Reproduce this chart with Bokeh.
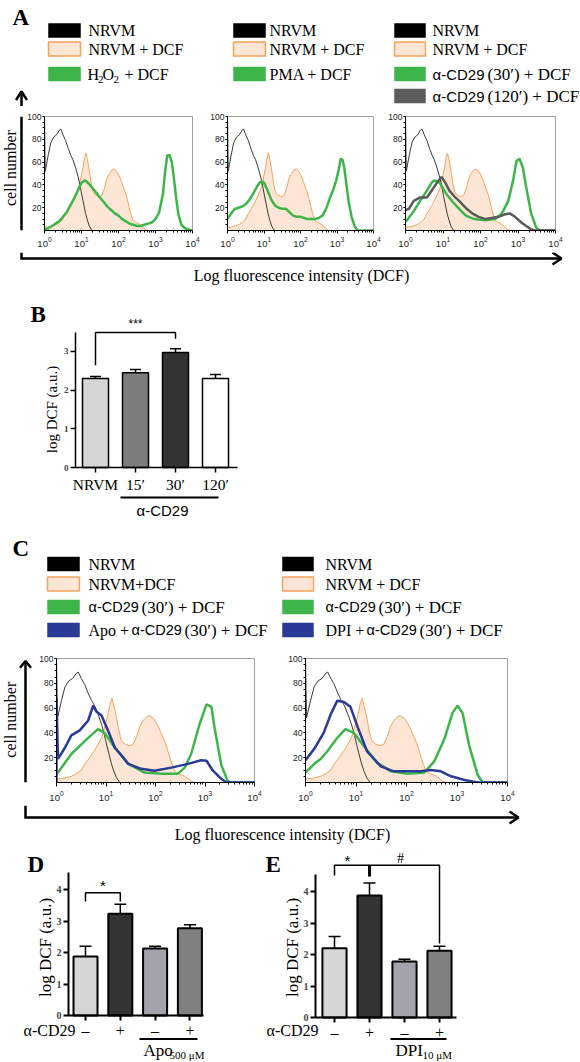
import math
from bokeh.plotting import figure
from bokeh.models import (Range1d, LinearAxis, FixedTicker, Whisker,
                          TeeHead, ColumnDataSource, Spacer)
from bokeh.layouts import column, row
from bokeh.core.properties import value
from bokeh.embed import file_html
from bokeh.resources import INLINE

SERIF = "Liberation Serif"
SANS = "Liberation Sans"

# ---------------- data ----------------
# flow-cytometry histograms: log10(DCF intensity) and cell number (% of max)
NRVM_LOG = [0.0, 0.0, 0.02, 0.1, 0.17, 0.25, 0.33, 0.40, 0.44, 0.50, 0.57, 0.64,
            0.71, 0.77, 0.84, 0.91, 0.97, 1.01, 1.06, 1.11, 1.16, 1.21, 1.28, 1.35]
NRVM_CNT = [0, 100, 52, 66, 77, 82, 84, 88, 89, 84, 79, 72,
            66, 62, 55, 47, 38, 31, 23, 15, 9, 4, 0, 0]

NRVM_DCF_LOG = [0.0, 0.1, 0.2, 0.3, 0.4, 0.5, 0.57, 0.65, 0.72, 0.77, 0.84, 0.91,
                0.97, 1.04, 1.08, 1.12, 1.16, 1.21, 1.26, 1.31, 1.38, 1.45, 1.5,
                1.55, 1.62, 1.68, 1.75, 1.82, 1.88, 1.95, 2.02, 2.08, 2.13, 2.18,
                2.24, 2.29, 2.34, 2.39, 2.48, 2.59, 2.66, 2.72, 2.8]
NRVM_DCF_CNT = [3, 3, 4, 5, 7, 10, 15, 19, 23, 26, 31, 36,
                44, 55, 63, 68, 62, 53, 42, 34, 31, 30, 30,
                31, 37, 45, 50, 53, 54, 52, 48, 43, 38, 34,
                27, 20, 14, 9, 7, 5, 3, 1, 0]

H2O2_LOG = [0.0, 0.1, 0.2, 0.3, 0.4, 0.5, 0.6, 0.7, 0.8, 0.9, 1.0, 1.1, 1.2, 1.3,
            1.4, 1.5, 1.6, 1.7, 1.8, 1.9, 2.0, 2.1, 2.2, 2.3, 2.4, 2.5, 2.6, 2.7,
            2.8, 2.9, 3.0, 3.1, 3.2, 3.26, 3.32, 3.38, 3.44, 3.5, 3.56, 3.62, 3.7,
            3.8, 3.9, 4.0]
H2O2_CNT = [1, 2, 4, 6, 8, 12, 16, 22, 28, 35, 42, 44, 41, 37,
            33, 29, 25, 21, 18, 15, 13, 10, 8, 6, 5, 4, 4, 5,
            6, 7, 10, 16, 32, 52, 66, 66, 60, 45, 28, 14, 5,
            2, 1, 0]

PMA_LOG = [0.0, 0.1, 0.2, 0.3, 0.4, 0.5, 0.6, 0.7, 0.8, 0.88, 0.94, 1.0, 1.1, 1.2,
           1.3, 1.4, 1.5, 1.6, 1.7, 1.8, 1.9, 2.0, 2.1, 2.2, 2.3, 2.4, 2.5, 2.6,
           2.7, 2.8, 2.9, 2.98, 3.05, 3.1, 3.15, 3.2, 3.26, 3.32, 3.4, 3.48, 3.56, 4.0]
PMA_CNT = [10, 15, 19, 20, 21, 23, 27, 32, 38, 42, 43, 42, 35, 27,
           22, 20, 19, 19, 16, 13, 12, 12, 11, 10, 10, 10, 11, 13,
           19, 28, 36, 44, 54, 63, 62, 55, 40, 25, 12, 4, 0, 0]

CD29_30_A_LOG = [0.0, 0.04, 0.22, 0.39, 0.57, 0.7, 0.78, 0.91, 1.09, 1.26, 1.43, 1.61,
                 1.83, 2.13, 2.39, 2.57, 2.74, 2.87, 2.96, 3.04, 3.13, 3.22, 3.35,
                 3.48, 3.57, 4.0]
CD29_30_A_CNT = [8, 9, 17, 26, 35, 42, 44, 42, 32, 25, 19, 13,
                 10, 9, 10, 15, 26, 44, 61, 63, 55, 38, 15,
                 3, 0, 0]

CD29_120_LOG = [0.0, 0.09, 0.22, 0.39, 0.57, 0.74, 0.86, 0.96, 1.06, 1.17, 1.3,
                1.43, 1.6, 1.78, 1.95, 2.13, 2.3, 2.48, 2.63, 2.78, 2.92, 3.09,
                3.22, 3.35, 3.45, 4.0]
CD29_120_CNT = [18, 19, 26, 29, 29, 37, 43, 47, 42, 35, 30,
                26, 20, 15, 12, 10, 11, 12, 14, 15, 12, 7,
                4, 1, 0, 0]

CD29_30_C1_LOG = [0.0, 0.03, 0.3, 0.64, 0.84, 0.97, 1.18, 1.45, 1.78, 2.12, 2.45,
                  2.59, 2.72, 2.89, 3.03, 3.13, 3.19, 3.33, 3.46, 3.55, 4.0]
CD29_30_C1_CNT = [7, 8, 23, 36, 43, 40, 28, 15, 8, 7, 7,
                  12, 23, 47, 63, 61, 45, 14, 1, 0, 0]

APO_LOG = [0.0, 0.0, 0.03, 0.17, 0.3, 0.47, 0.64, 0.74, 0.81, 0.91, 1.04, 1.18,
           1.31, 1.45, 1.71, 1.98, 2.32, 2.66, 2.92, 3.03, 3.16, 3.33, 3.43, 4.0]
APO_CNT = [0, 68, 19, 28, 38, 42, 50, 62, 57, 54, 42, 28,
           22, 15, 11, 9.5, 12, 15, 18, 17.5, 9.5, 3, 0, 0]

CD29_30_C2_LOG = [0.0, 0.1, 0.2, 0.3, 0.43, 0.63, 0.79, 0.96, 1.16, 1.42, 1.69,
                  2.02, 2.35, 2.55, 2.75, 2.91, 3.01, 3.11, 3.24, 3.41, 3.51, 4.0]
CD29_30_C2_CNT = [8, 12, 16, 19, 25, 36, 43, 40, 29, 16, 9,
                  7, 8, 17, 35, 56, 62, 56, 30, 6, 0, 0]

DPI_LOG = [0.0, 0.17, 0.36, 0.5, 0.63, 0.76, 0.89, 1.03, 1.22, 1.49, 1.75, 2.02,
           2.28, 2.48, 2.68, 2.88, 3.15, 3.41, 4.0]
DPI_CNT = [18, 27, 40, 55, 66, 65, 61, 45, 25, 13, 9, 9,
           9, 10, 9, 5, 2, 0, 0]

HIST_TICKS = [1, 10, 100, 1000, 10000]
COUNT_TICKS = [20, 40, 60, 80, 100]

# bar chart B
B_CATS = ["NRVM", "15′", "30′", "120′"]
B_VALS = [2.30, 2.45, 2.97, 2.30]
B_ERR = [0.05, 0.08, 0.10, 0.10]
B_TICKS = [0, 1, 2, 3]

# bar charts D and E
SIGNS = ["–", "+", "–", "+"]
D_VALS = [1.87, 3.23, 2.13, 2.77]
D_ERR = [0.33, 0.30, 0.07, 0.11]
E_VALS = [2.20, 3.87, 1.78, 2.12]
E_ERR = [0.37, 0.40, 0.07, 0.14]
DE_TICKS = [0, 1, 2, 3, 4]

# ---------------- styles ----------------
GREEN = "#3db54a"
OR_LINE = "#f3a35d"
OR_FILL = "#fde6d5"
BLK_LINE = "#3a3a3a"
GREY = "#5a5a5a"
BLUE = "#2b3a97"
B_COLORS = ["#d6d6d6", "#7d7d7d", "#333333", "#ffffff"]
DE_COLORS = ["#d6d6d6", "#333333", "#a3a3ab", "#808080"]


def canvas(x0, x1, y0, y1):
    p = figure(width=x1 - x0, height=y1 - y0,
               x_range=Range1d(x0, x1), y_range=Range1d(y1, y0),
               x_axis_location=None, y_axis_location=None,
               min_border=0, output_backend="svg", toolbar_location=None)
    p.grid.visible = False
    p.outline_line_color = None
    return p


def txt(p, x, y, s, size, font=SERIF, style="normal", align="left",
        baseline="middle", angle=0.0, color="black"):
    p.text(x=[x], y=[y], text=[s], text_font=value(font),
           text_font_size=f"{size}px", text_font_style=style,
           text_align=align, text_baseline=baseline, angle=angle,
           text_color=color)


def legend(p, sx0, sx1, rows):
    for yc, fill, line, pieces in rows:
        p.quad(left=[sx0], right=[sx1], top=[yc - 7], bottom=[yc + 7],
               fill_color=fill, line_color=line if line else fill,
               line_width=1.5 if line else 0.5)
        for s, x, font, size, dy in pieces:
            txt(p, x, yc + dy, s, size, font=font)


def hist(x0, x1, y0, y1, fl, fr, ft, fb, curves, tick_out, standoff):
    p = figure(width=x1 - x0, height=y1 - y0, x_axis_type="log",
               x_range=Range1d(1, 1e4), y_range=Range1d(0, 100),
               min_border_left=fl - x0, min_border_right=x1 - fr,
               min_border_top=ft - y0, min_border_bottom=y1 - fb,
               output_backend="svg", toolbar_location=None)
    p.grid.visible = False
    p.outline_line_color = "#a0a0a0"
    p.outline_line_width = 1
    for logs, cnts, color, lw, fill in curves:
        xs = [10 ** v for v in logs]
        if fill:
            p.varea(x=xs, y1=[0] * len(xs), y2=cnts, fill_color=fill)
        p.line(xs, cnts, line_color=color, line_width=lw)
    minor_x = [m * d for d in HIST_TICKS[:-1] for m in range(2, 10)]
    xa = p.xaxis[0]
    ya = p.yaxis[0]
    xa.ticker = FixedTicker(ticks=HIST_TICKS, minor_ticks=minor_x)
    ya.ticker = FixedTicker(ticks=COUNT_TICKS, minor_ticks=list(range(5, 100, 5)))
    for ax in (xa, ya):
        ax.axis_line_color = "black"
        ax.axis_line_width = 1
        ax.major_tick_in = 0
        ax.minor_tick_in = 0
        ax.minor_tick_out = 2
        ax.major_label_text_font = SANS
        ax.major_label_text_color = "#222222"
    xa.major_label_text_font_size = "9.5px"
    ya.major_label_text_font_size = "8.5px"
    xa.major_tick_out = tick_out
    xa.major_label_standoff = standoff
    ya.major_tick_out = 2
    ya.major_label_standoff = 1
    return p


def bar_fig(x0, x1, y0, y1, xc0, sx, yz, sy):
    p = figure(width=x1 - x0, height=y1 - y0,
               x_range=Range1d((x0 - xc0) / sx, (x1 - xc0) / sx),
               y_range=Range1d((yz - y1) / sy, (yz - y0) / sy),
               x_axis_location=None, y_axis_location=None,
               min_border=0, output_backend="svg", toolbar_location=None)
    p.grid.visible = False
    p.outline_line_color = None
    fx = lambda X: (X - xc0) / sx
    fy = lambda Y: (yz - Y) / sy
    return p, fx, fy


def style_bar_axes(p, yfix, ybounds, yticks, xbounds, labels, xfont, xsize,
                   lw, ylab_size, xstandoff=3):
    ya = LinearAxis(fixed_location=yfix, bounds=ybounds,
                    ticker=FixedTicker(ticks=yticks))
    xa = LinearAxis(fixed_location=0, bounds=xbounds,
                    ticker=FixedTicker(ticks=list(range(len(labels)))),
                    major_label_overrides={i: s for i, s in enumerate(labels)})
    for ax in (xa, ya):
        ax.axis_line_width = lw
        ax.major_tick_line_width = lw
        ax.major_tick_in = 0
        ax.major_tick_out = 5
        ax.minor_tick_out = 0
        ax.minor_tick_in = 0
    ya.major_label_text_font = SERIF
    ya.major_label_text_font_style = "bold"
    ya.major_label_text_font_size = f"{ylab_size}px"
    ya.major_label_standoff = 2
    xa.major_label_text_font = xfont
    xa.major_label_text_font_size = f"{xsize}px"
    xa.major_label_standoff = xstandoff
    xa.major_label_text_color = "black"
    p.add_layout(ya, "left")
    p.add_layout(xa, "below")


W = 580

# ================= Panel A =================
a_top = canvas(0, W, 0, 106)
txt(a_top, 12, 4, "A", 23, style="bold", baseline="top")
legend(a_top, 48, 80, [
    (30, "black", None, [("NRVM", 88, SERIF, 16, 0)]),
    (48.5, OR_FILL, OR_LINE, [("NRVM + DCF", 88, SERIF, 16, 0)]),
    (73.5, GREEN, None, [("H", 87, SERIF, 16, 0), ("2", 97.5, SERIF, 11, 5),
                         ("O", 102, SERIF, 16, 0), ("2", 113, SERIF, 11, 5),
                         ("+ DCF", 124, SERIF, 16, 0)]),
])
legend(a_top, 233, 265, [
    (30, "black", None, [("NRVM", 269, SERIF, 16, 0)]),
    (48.5, OR_FILL, OR_LINE, [("NRVM + DCF", 269, SERIF, 16, 0)]),
    (73.5, GREEN, None, [("PMA + DCF", 269, SERIF, 16, 0)]),
])
legend(a_top, 394, 425, [
    (30, "black", None, [("NRVM", 432, SERIF, 16, 0)]),
    (48.5, OR_FILL, OR_LINE, [("NRVM + DCF", 432, SERIF, 16, 0)]),
    (73.5, GREEN, None, [("α-CD29", 432, SANS, 15, 0),
                         ("(30′) + DCF", 487, SERIF, 17, 0)]),
    (95.5, "#5c5c5c", None, [("α-CD29", 432, SANS, 15, 0),
                             ("(120′) + DCF", 487, SERIF, 17, 0)]),
])
a_top.line([21, 21], [92, 106], line_width=2.5, line_color="black")
a_top.line([15.5, 21, 26.5], [99.5, 91, 99.5], line_width=2.5, line_color="black")

a_strip = canvas(0, 24, 106, 252)
a_strip.line([21, 21], [106, 252], line_width=2.5, line_color="black")
txt(a_strip, 10, 172, "cell number", 16, align="center", angle=math.pi / 2)

base_curves = [(NRVM_DCF_LOG, NRVM_DCF_CNT, OR_LINE, 1, OR_FILL),
               (NRVM_LOG, NRVM_CNT, BLK_LINE, 1, None)]
h1 = hist(24, 207, 106, 252, 40, 192, 116, 230,
          base_curves + [(H2O2_LOG, H2O2_CNT, GREEN, 2.5, None)], 3, 3)
h2 = hist(207, 385, 106, 252, 225, 373, 116, 230,
          base_curves + [(PMA_LOG, PMA_CNT, GREEN, 2.5, None)], 3, 3)
h3 = hist(385, W, 106, 252, 402, 555, 116, 230,
          base_curves + [(CD29_30_A_LOG, CD29_30_A_CNT, GREEN, 2.5, None),
                         (CD29_120_LOG, CD29_120_CNT, GREY, 2.5, None)], 3, 3)

a_bot = canvas(0, W, 252, 292)
a_bot.line([21, 21, 560], [252, 258, 258], line_width=2.5, line_color="black",
           line_join="miter")
a_bot.line([552, 561, 552], [252, 258, 264], line_width=2.5, line_color="black")
txt(a_bot, 301, 275, "Log fluorescence intensity (DCF)", 16, align="center")

# ================= Panel B =================
pb, bfx, bfy = bar_fig(0, 290, 292, 536, 95, 40, 467, 38.7)
b_idx = list(range(len(B_CATS)))
b_src = ColumnDataSource(dict(x=b_idx, top=B_VALS, color=B_COLORS,
                              up=[v + e for v, e in zip(B_VALS, B_ERR)],
                              lo=[v - e for v, e in zip(B_VALS, B_ERR)]))
pb.vbar(x="x", top="top", width=0.65, fill_color="color", line_color="black",
        line_width=1.5, source=b_src)
pb.add_layout(Whisker(source=b_src, base="x", upper="up", lower="lo",
                      line_width=1.5,
                      upper_head=TeeHead(size=11, line_width=1.5),
                      lower_head=TeeHead(size=11, line_width=1.5)))
style_bar_axes(pb, -0.5, (0, 3.5), B_TICKS, (-0.5, 3.55), B_CATS, SERIF, 15.5, 1.5, 9)
BR_TOP_B = 3.49
pb.line([b_idx[0], b_idx[0], b_idx[2], b_idx[2]],
        [B_VALS[0] + B_ERR[0] + 0.29, BR_TOP_B, BR_TOP_B,
         B_VALS[2] + B_ERR[2] + 0.26], line_width=1.5, line_color="black")
txt(pb, (b_idx[0] + b_idx[2]) / 2, bfy(323), "***", 12, font=SANS, align="center")
pb.line([bfx(120), bfx(218)], [bfy(497), bfy(497)], line_width=2, line_color="black")
txt(pb, bfx(162), bfy(510), "α-CD29", 15, font=SANS, align="center")
txt(pb, bfx(30), bfy(301), "B", 23, style="bold", baseline="top")
txt(pb, bfx(51), bfy(409), "log DCF (a.u.)", 15, align="center", angle=math.pi / 2)

# ================= Panel C =================
c_top = canvas(0, W, 536, 643)
txt(c_top, 12, 535, "C", 23, style="bold", baseline="top")
rows_y = [563.5, 583.5, 606.5, 629.5]
legend(c_top, 47, 79, [
    (rows_y[0], "black", None, [("NRVM", 88, SERIF, 16, 0)]),
    (rows_y[1], OR_FILL, OR_LINE, [("NRVM+DCF", 88, SERIF, 16, 0)]),
    (rows_y[2], GREEN, None, [("α-CD29", 88, SANS, 14.5, 0),
                              ("(30′) + DCF", 141, SERIF, 17, 0)]),
    (rows_y[3], BLUE, None, [("Apo +", 88, SERIF, 16, 0),
                             ("α-CD29", 131, SANS, 14.5, 0),
                             ("(30′) + DCF", 184, SERIF, 17, 0)]),
])
legend(c_top, 282, 313, [
    (rows_y[0], "black", None, [("NRVM", 325, SERIF, 16, 0)]),
    (rows_y[1], OR_FILL, OR_LINE, [("NRVM + DCF", 325, SERIF, 16, 0)]),
    (rows_y[2], GREEN, None, [("α-CD29", 325, SANS, 14.5, 0),
                              ("(30′) + DCF", 378, SERIF, 17, 0)]),
    (rows_y[3], BLUE, None, [("DPI +", 325, SERIF, 16, 0),
                             ("α-CD29", 366, SANS, 14.5, 0),
                             ("(30′) + DCF", 419, SERIF, 17, 0)]),
])

c_strip = canvas(0, 36, 643, 805)
c_strip.line([25, 25], [647, 805], line_width=2.5, line_color="black")
c_strip.line([19.5, 25, 30.5], [655, 646.5, 655], line_width=2.5, line_color="black")
txt(c_strip, 10, 723, "cell number", 16, align="center", angle=math.pi / 2)

c1 = hist(36, 282, 643, 805, 55, 254, 658, 782,
          base_curves + [(CD29_30_C1_LOG, CD29_30_C1_CNT, GREEN, 2.5, None),
                         (APO_LOG, APO_CNT, BLUE, 2.5, None)], 4, 4)
c2 = hist(282, 522, 643, 805, 305, 507, 654, 782,
          base_curves + [(CD29_30_C2_LOG, CD29_30_C2_CNT, GREEN, 2.5, None),
                         (DPI_LOG, DPI_CNT, BLUE, 2.5, None)], 4, 4)

c_bot = canvas(0, W, 805, 845)
c_bot.line([25, 25, 517], [805, 817, 817], line_width=2.5, line_color="black",
           line_join="miter")
c_bot.line([509, 518, 509], [811, 817, 823], line_width=2.5, line_color="black")
txt(c_bot, 282, 834, "Log fluorescence intensity (DCF)", 16, align="center")


# ================= Panels D & E =================
def de_panel(x0, x1, xc0, sx, yz, vals, errs, letter, letter_xy, ylab_x,
             lab_right, under, sub_main, sub_small, sub_x, sub_w, yfix, xend):
    p, fx, fy = bar_fig(x0, x1, 845, 1062, xc0, sx, yz, 31.5)
    idx = list(range(len(vals)))
    src = ColumnDataSource(dict(x=idx, top=vals, color=DE_COLORS,
                                up=[v + e for v, e in zip(vals, errs)]))
    p.vbar(x="x", top="top", width=0.69, fill_color="color", line_color="black",
           line_width=2, source=src)
    p.add_layout(Whisker(source=src, base="x", upper="up", lower="top",
                         line_width=1.5,
                         upper_head=TeeHead(size=12, line_width=1.5),
                         lower_head=None))
    style_bar_axes(p, yfix, (0, 4.55), DE_TICKS, (yfix, xend), SIGNS, SERIF, 16, 2, 10,
                   xstandoff=1)
    txt(p, fx(letter_xy[0]), fy(letter_xy[1]), letter, 23, style="bold", baseline="top")
    txt(p, fx(ylab_x), fy(947), "log DCF (a.u.)", 17, align="center", angle=math.pi / 2)
    txt(p, fx(lab_right), fy(1030), "α-CD29", 16, align="right")
    p.line([fx(under[0]), fx(under[1])], [fy(1038.5), fy(1038.5)], line_width=2,
           line_color="black")
    txt(p, fx(sub_x), fy(1050), sub_main, 17)
    txt(p, fx(sub_x + sub_w), fy(1054), sub_small, 11)
    return p, fx, fy, idx


pd_, dfx, dfy, d_idx = de_panel(0, 262, 85, 34.8, 1015, D_VALS, D_ERR, "D",
                                (27, 851), 45, 75, (139, 197), "Apo", "500 μM",
                                143, 26, -0.49, 3.39)
D_BR_LOW, D_BR_TOP = 3.62, 3.90
pd_.line([d_idx[0], d_idx[0], d_idx[1], d_idx[1]],
         [D_BR_LOW, D_BR_TOP, D_BR_TOP, D_BR_LOW], line_width=1.5, line_color="black")
txt(pd_, (d_idx[0] + d_idx[1]) / 2, dfy(885), "*", 15, font=SANS, align="center")

pe, efx, efy, e_idx = de_panel(262, W, 334, 35, 1017, E_VALS, E_ERR, "E",
                               (265, 851), 292, 318, (390, 446), "DPI", "10 μM",
                               395, 27, -0.543, 3.49)
E_BR_TOP = 4.83
pe.line([e_idx[0], e_idx[0], e_idx[3], e_idx[3]],
        [4.51, E_BR_TOP, E_BR_TOP, E_VALS[3] + E_ERR[3] + 0.09],
        line_width=1.5, line_color="black")
pe.line([e_idx[1], e_idx[1]], [E_BR_TOP, 4.48], line_width=3, line_color="black")
txt(pe, efx(347), efy(860), "*", 15, font=SANS, align="center")
txt(pe, efx(400), efy(858), "#", 14, align="center")

layout = column(
    a_top,
    row(a_strip, h1, h2, h3),
    a_bot,
    row(pb, Spacer(width=W - 290, height=244)),
    c_top,
    row(c_strip, c1, c2, Spacer(width=W - 522, height=162)),
    c_bot,
    row(pd_, pe),
)

open("out.html", "w").write(file_html(layout, INLINE))
